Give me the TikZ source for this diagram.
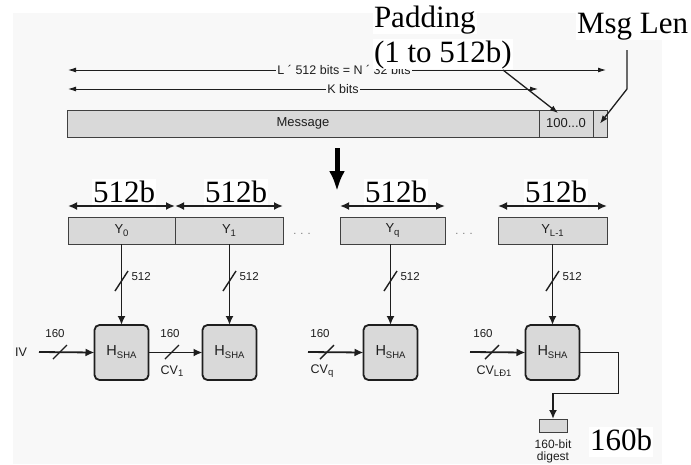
\documentclass[tikz,border=0pt]{standalone}
\usepackage{fontspec}
\setmainfont{Liberation Serif}
\setsansfont{Liberation Sans}
\usetikzlibrary{arrows.meta,calc}
\definecolor{boxfill}{HTML}{D9D9D9}
\definecolor{ink}{HTML}{1E1E1E}
\definecolor{bgc}{HTML}{F8F8F8}
\newcommand{\mysub}[1]{\raisebox{-0.4ex}{\fontsize{9.5}{10}\selectfont #1}}
\begin{document}
\begin{tikzpicture}[x=1pt,y=-1pt,
  every node/.style={inner sep=0pt,outer sep=0pt},
  small/.style={font=\sffamily\fontsize{12.5}{13}\selectfont,text=ink},
  tiny/.style={font=\sffamily\fontsize{11.5}{12}\selectfont,text=ink},
  big/.style={font=\fontsize{31}{33}\selectfont,text=black,fill=white,inner sep=1pt,text height=22pt,text depth=6pt},
  bar/.style={draw=ink!85,fill=boxfill,line width=0.9pt,minimum height=27pt,font=\sffamily\fontsize{13}{13}\selectfont,text=ink},
  hbox/.style={draw=ink,fill=boxfill,line width=1.8pt,rounded corners=5pt,minimum width=54pt,minimum height=55pt,font=\sffamily\fontsize{14.5}{15}\selectfont,text=ink},
  conn/.style={draw=ink,line width=1.8pt,-{Latex[length=9pt,width=8pt]}},
  pointer/.style={draw=ink,line width=1.3pt,-{Latex[length=8pt,width=6pt]}},
  dim/.style={draw=ink,line width=0.9pt,{Latex[length=8pt,width=5pt]}-{Latex[length=8pt,width=5pt]}},
  seg/.style={draw=ink,line width=2pt,{Latex[length=9pt,width=8pt]}-{Latex[length=9pt,width=8pt]}},
  slashmark/.style={draw=ink,line width=1.4pt},
  dots/.style={font=\sffamily\fontsize{11}{11}\selectfont,text=ink!60}
]
\useasboundingbox (0,0) rectangle (691,464);
\fill[bgc] (13,13) rectangle (662,464);

% message bar
\node[bar,minimum width=472pt] (msg) at (303,123.5) {Message};
\node[bar,minimum width=54pt] (pad) at (566,123.5) {100...0};
\node[bar,minimum width=14pt] (len) at (600,123.5) {};

% dimension arrows
\coordinate (La) at (68,70);
\coordinate (Lb) at (606,70);
\coordinate (Ka) at (68,89);
\coordinate (Kb) at (538,89);
\draw[dim] (La) -- (Lb);
\draw[dim] (Ka) -- (Kb);
\node[small,fill=bgc,inner sep=1.5pt] (Llab) at (344,70) {L ´ 512 bits = N ´ 32 bits};
\node[small,fill=bgc,inner sep=1pt] (Klab) at (343,89) {K bits};

% annotations
\node[big,anchor=base west] (padt) at (373,27) {Padding};
\node[big,anchor=base west] (padr) at (373,62) {(1 to 512b)};
\node[big,anchor=base west] (mlen) at (576,33) {Msg Len};
\coordinate (ps) at (503,70);
\coordinate (pe) at (558,113);
\draw[pointer] (ps) -- (pe);
\coordinate (ms) at (627,50);
\coordinate (mk) at (627,89);
\draw[pointer] (ms) -- (mk) -- (len.center);

% big down arrow
\coordinate (da) at (337,148);
\coordinate (db) at (337,191);
\draw[draw=black,line width=5pt,-{Latex[length=20pt,width=16pt]}] (da) -- (db);

% blocks
\node[bar,minimum width=107pt,font=\sffamily\fontsize{13}{13}\selectfont] (y0) at (121.5,230.5) {Y\mysub{0}};
\node[bar,minimum width=108pt,font=\sffamily\fontsize{13}{13}\selectfont] (y1) at (229,230.5) {Y\mysub{1}};
\node[bar,minimum width=105pt,font=\sffamily\fontsize{13}{13}\selectfont] (yq) at (392.5,230.5) {Y\mysub{q}};
\node[bar,minimum width=109pt,font=\sffamily\fontsize{13}{13}\selectfont] (yl) at (552.5,230.5) {Y\mysub{L-1}};
\node[dots] (d1) at (302,234) {. . .};
\node[dots] (d2) at (464,234) {. . .};

% 512b segment labels
\node[big,anchor=base] (b0) at (124,202) {512b};
\node[big,anchor=base] (b1) at (236,202) {512b};
\node[big,anchor=base] (bq) at (396,202) {512b};
\node[big,anchor=base] (bl) at (556,202) {512b};
\draw[seg] ($(y0.north west)+(0,-11)$) -- ($(y0.north east)+(0,-11)$);
\draw[seg] ($(y1.north west)+(0,-11)$) -- ($(y1.north east)+(0,-11)$);
\draw[seg] ($(yq.north west)+(0,-11)$) -- ($(yq.north east)+(0,-11)$);
\draw[seg] ($(yl.north west)+(0,-11)$) -- ($(yl.north east)+(0,-11)$);

% compression boxes
\node[hbox] (h1) at (121.5,352.5) {H\mysub{SHA}};
\node[hbox] (h2) at (229.5,352.5) {H\mysub{SHA}};
\node[hbox] (h3) at (390.5,352.5) {H\mysub{SHA}};
\node[hbox] (h4) at (552.5,352.5) {H\mysub{SHA}};

% block inputs
\foreach \h in {h1,h2,h3,h4}{
  \draw[conn] (\h.north |- y0.south) -- (\h.north);
  \coordinate (s-\h) at ($(\h.north)+(0,-44)$);
  \draw[slashmark] ($(s-\h)+(-6.5,10)$) -- ($(s-\h)+(6.5,-10)$);
  \node[tiny,anchor=west] at ($(s-\h)+(10,-4)$) {512};
}

% chaining inputs
\node[small] (iv) at (21,352) {IV};
\coordinate (ivs) at (39,352);
\coordinate (cvq) at (308,352);
\coordinate (cvl) at (470,352);
\draw[conn] (ivs) -- (h1.west);
\draw[conn] (h1.east) -- (h2.west);
\draw[conn] (cvq) -- (h3.west);
\draw[conn] (cvl) -- (h4.west);
\foreach \x/\lx in {60/55,172/170,327/320,492/483}{
  \draw[slashmark] (\x-7,359) -- (\x+7,345);
  \node[tiny] at (\lx,334) {160};
}
\node[small] (cv1) at (172,371) {CV\mysub{1}};
\node[small] (cvqt) at (322,371) {CV\mysub{q}};
\node[small] (cvlt) at (494,371) {CV\mysub{LĐ1}};

% output
\node[draw=ink!85,fill=boxfill,line width=0.9pt,minimum width=28pt,minimum height=13pt] (dig) at (553,425.5) {};
\draw[conn] (h4.east) -- ++(39,0) -- ++(0,41) -| (dig.north);
\node[small,align=center,font=\sffamily\fontsize{12}{12}\selectfont] (digt) at (553,451) {160-bit\\digest};
\node[big,anchor=base west] (b160) at (589,450) {160b};
\end{tikzpicture}
\end{document}
